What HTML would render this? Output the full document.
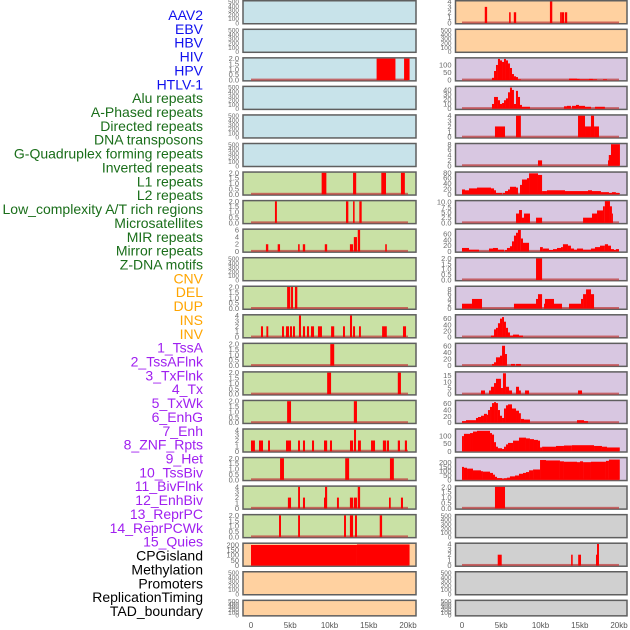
<!DOCTYPE html>
<html><head><meta charset="utf-8"><style>
html,body{margin:0;padding:0;background:#fff;}
svg{display:block;font-family:"Liberation Sans",sans-serif;}
</style></head><body>
<svg id="chart" width="630" height="630" viewBox="0 0 630 630" xmlns="http://www.w3.org/2000/svg"></svg>
<script>
// ---------- data ----------
const labelTexts = ["AAV2","EBV","HBV","HIV","HPV","HTLV-1",
"Alu repeats","A-Phased repeats","Directed repeats","DNA transposons","G-Quadruplex forming repeats","Inverted repeats","L1 repeats","L2 repeats","Low_complexity A/T rich regions","Microsatellites","MIR repeats","Mirror repeats","Z-DNA motifs",
"CNV","DEL","DUP","INS","INV",
"1_TssA","2_TssAFlnk","3_TxFlnk","4_Tx","5_TxWk","6_EnhG","7_Enh","8_ZNF_Rpts","9_Het","10_TssBiv","11_BivFlnk","12_EnhBiv","13_ReprPC","14_ReprPCWk","15_Quies",
"CPGisland","Methylation","Promoters","ReplicationTiming","TAD_boundary"];
const labelGroups = [0,0,0,0,0,0, 1,1,1,1,1,1,1,1,1,1,1,1,1, 2,2,2,2,2, 3,3,3,3,3,3,3,3,3,3,3,3,3,3,3, 4,4,4,4,4];
const groupColors = ["#1010ee","#1a6e1a","#ffa500","#a020f0","#000000"];
const xTickKb = [0,5,10,15,20];
const xTickLabels = ["0","5kb","10kb","15kb","20kb"];

const EMPTY = [];
const T500 = [0,100,200,300,400,500];
const T2 = [0,0.5,1,1.5,2];
const T4 = [0,1,2,3,4];
// left column bars [startKb, endKb, value]
const L_HPV = [[16.0,18.4,2],[19.5,20.2,2]];
const L_L1 = [[9.0,9.6,2],[13.0,13.4,2],[16.6,17.2,2],[19.1,19.6,2]];
const L_LowAT = [[3.05,3.3,2],[12.1,12.4,2],[13.0,13.2,2],[13.8,14.1,2]];
const L_MIR = [[1.9,2.2,2],[3.4,3.7,2],[6.0,6.2,2],[6.6,6.9,2],[9.4,9.7,2],[12.6,13.0,2],[13.1,13.5,4],[13.6,13.9,6],[17.1,17.3,2]];
const L_DEL = [[4.6,5.0,2],[5.1,5.35,2],[5.6,5.9,2]];
const L_INS = [[1.27,1.53,2],[1.96,2.2,2],[3.95,4.2,2],[4.46,4.84,2],[4.97,5.22,2],[5.35,5.6,2],[6.11,6.37,4],[6.62,6.88,2],[7.13,7.39,2],[7.64,8.03,2],[8.53,9.04,2],[10.2,10.6,2],[11.72,11.97,2],[12.61,12.87,4],[13.0,13.25,2],[13.76,14.0,2],[16.7,17.3,2],[19.36,19.75,2]];
const L_TssA = [[10.1,10.6,2]];
const L_TxFlnk = [[9.7,10.2,2],[18.7,19.1,2]];
const L_TxWk = [[4.6,5.1,2],[13.1,13.5,2]];
const L_Enh = [[0,0.5,2],[1.02,1.53,2],[2.17,2.42,2],[4.46,5.1,2],[5.99,6.24,2],[6.62,6.88,2],[7.77,8.03,2],[9.3,9.7,2],[10.06,10.32,2],[12.61,13.0,2],[13.12,13.38,4],[13.63,14.0,2],[15.29,15.8,2],[16.8,17.2,2],[17.3,17.58,2],[18.7,18.98,2],[19.6,19.87,2]];
const L_Het = [[3.7,4.2,2],[12.0,12.5,2],[17.7,18.2,2]];
const L_BivFlnk = [[4.7,5.1,2],[6.0,6.24,4],[6.62,6.88,2],[9.3,9.55,2],[9.43,9.7,4],[10.95,11.2,2],[12.6,13.0,2],[13.1,13.5,2],[13.6,13.9,4],[17.58,17.8,2],[19.1,19.36,2]];
const L_ReprPC = [[3.57,3.82,2],[6.0,6.24,2],[11.85,12.1,2],[12.6,13.0,2],[13.25,13.5,2],[16.4,16.7,2]];
const L_CPG = [[0,13.5,200],[13.5,20.2,205]];
// right column bars
const R_Top = [[2.9,3.2,3],[6.0,6.2,2],[6.6,6.9,2],[11.2,11.5,4],[12.5,12.7,2],[12.7,13.0,2],[13.1,13.4,2]];
const R_HIV = [[3.82,4.08,15],[4.08,4.33,60],[4.33,4.58,100],[4.58,4.84,140],[4.84,5.1,130],[5.1,5.35,120],[5.35,5.6,140],[5.6,5.86,130],[5.86,6.11,110],[6.11,6.37,80],[6.37,6.62,40],[6.62,6.88,25],[6.88,7.13,20],[7.13,7.5,5],[13.63,14.65,10],[14.65,15.0,8],[15.0,16.18,5],[16.18,16.68,8],[16.68,17.2,5],[17.96,18.47,5]];
const R_Alu = [[3.82,4.08,10],[4.08,4.58,25],[4.58,4.84,18],[4.84,5.1,10],[5.1,5.35,12],[5.35,5.6,18],[5.6,5.86,22],[5.86,6.11,35],[6.11,6.37,45],[6.37,6.62,40],[6.62,6.88,10],[6.88,7.13,38],[7.13,7.39,25],[7.39,7.64,8],[7.64,8.66,4],[12.99,13.37,5],[13.37,13.88,6],[14.0,14.52,6],[14.52,14.9,8],[14.9,15.67,6],[15.67,16.43,4],[16.94,18.2,4]];
const R_Directed = [[4.2,5.48,2],[6.88,7.5,4],[14.78,15.67,4],[15.67,16.43,2],[16.43,16.82,4],[16.82,17.45,2]];
const R_GQuad = [[9.68,10.2,2],[18.6,18.85,2],[18.7,18.98,4],[18.98,20.12,8]];
const R_Inverted = [[0,0.38,18],[0.38,0.89,15],[0.89,1.91,22],[1.91,3.69,25],[3.69,4.08,22],[4.08,4.33,15],[4.33,5.1,5],[5.22,5.48,5],[5.48,5.86,12],[5.86,6.11,18],[6.11,6.88,28],[6.88,7.13,25],[7.39,7.64,35],[7.64,8.28,55],[8.28,8.54,60],[8.54,9.68,78],[9.68,10.2,72],[10.2,10.82,12],[10.82,13.12,15],[13.12,16.05,12],[16.05,16.56,15],[16.56,17.7,12],[17.7,18.72,8],[18.72,19.1,5],[19.1,19.6,8],[19.6,20.1,5]];
const R_Micro = [[6.88,7.26,4.5],[7.26,7.64,6.2],[7.64,7.9,2.5],[7.9,8.66,4.5],[9.43,10.2,2.5],[15.42,16.56,2.5],[16.56,17.2,4.5],[17.2,17.96,6],[17.96,18.2,8],[18.2,18.85,10.5],[18.85,19.1,8],[19.1,19.2,4.5]];
const R_Mirror = [[0,0.89,12],[0.89,2.17,6],[3.44,3.95,10],[3.95,4.58,12],[4.58,5.35,6],[5.48,5.73,5],[5.73,6.11,12],[6.11,6.37,18],[6.37,6.62,35],[6.62,6.88,55],[6.88,7.13,65],[7.13,7.5,75],[7.5,7.77,45],[7.77,8.54,30],[9.94,10.3,15],[10.3,11.08,10],[11.08,11.59,5],[11.59,12.1,8],[12.1,12.61,12],[12.61,12.86,15],[12.86,13.5,25],[13.5,13.88,20],[13.88,14.27,10],[14.27,14.65,6],[14.65,15.42,10],[15.42,16.43,6],[16.43,16.94,10],[16.94,17.58,15],[17.58,18.2,20],[18.2,18.6,25],[18.6,18.98,20],[18.98,19.36,8],[19.36,19.6,5],[19.6,20.0,8]];
const R_ZDNA = [[9.43,10.2,2]];
const R_DEL = [[0,1.27,2],[1.27,2.55,4],[6.62,9.43,2],[9.43,9.68,4],[9.68,10.2,6],[10.45,10.57,2],[10.57,11.72,4],[11.72,12.74,2],[13.63,15.16,2],[15.16,15.42,4],[15.42,15.8,6],[15.8,16.43,8],[16.43,16.82,6]];
const R_INS = [[3.69,4.08,5],[4.08,4.33,25],[4.33,4.58,30],[4.58,4.84,45],[4.84,5.1,60],[5.1,5.35,65],[5.35,5.6,50],[5.6,5.86,30],[5.86,6.11,15],[6.11,6.5,5],[6.5,7.26,8],[7.26,7.77,5]];
const R_TssA = [[3.82,4.08,5],[4.08,4.33,10],[4.33,4.84,25],[4.84,5.1,30],[5.1,5.48,60],[5.48,5.73,35],[6.24,6.75,5],[6.88,7.5,5]];
const R_TxFlnk = [[2.42,2.93,3],[3.44,3.69,3],[3.69,4.08,6],[4.08,4.33,9],[4.33,4.97,12.5],[4.97,5.22,5],[5.22,5.6,17],[5.6,5.99,6],[5.99,6.37,3],[6.88,7.26,6],[7.26,7.5,3],[8.03,8.54,3],[14.78,15.29,3]];
const R_TxWk = [[0,0.51,5],[0.51,1.78,8],[1.78,2.04,15],[2.04,2.42,18],[2.42,2.8,22],[2.8,3.18,28],[3.18,3.31,25],[3.31,3.57,40],[3.57,3.82,50],[3.82,4.08,62],[4.08,4.33,65],[4.33,4.58,62],[4.58,4.84,40],[4.84,5.1,22],[5.1,5.35,15],[5.35,5.6,45],[5.6,5.86,55],[5.86,6.37,58],[6.37,6.88,45],[6.88,7.26,38],[7.26,7.5,30],[7.5,7.9,12],[7.9,8.66,10],[14.65,15.54,8],[15.54,16.05,5]];
const R_Enh = [[0,0.25,100],[0.25,1.02,115],[1.02,1.4,120],[1.4,1.91,130],[1.91,3.57,135],[3.57,3.82,120],[3.82,4.08,110],[4.08,4.33,60],[4.33,4.58,30],[4.58,5.1,20],[5.1,5.35,15],[5.35,5.6,30],[5.6,5.86,45],[5.86,6.5,55],[6.5,7.26,70],[7.26,8.15,90],[8.15,8.66,85],[8.66,9.17,80],[9.17,9.68,75],[9.68,9.94,70],[9.94,10.2,25],[10.2,11.97,30],[11.97,12.99,35],[12.99,14.0,38],[14.0,16.82,40],[16.82,17.83,35],[17.83,18.47,30],[18.47,20.1,25]];
const R_Het = [[0,0.25,150],[0.25,0.64,140],[0.64,1.4,130],[1.4,2.42,110],[2.42,2.67,100],[2.67,3.57,95],[3.57,3.95,80],[3.95,4.2,60],[4.2,4.46,35],[4.46,5.1,20],[5.1,5.35,12],[5.35,5.73,18],[5.73,6.11,25],[6.11,6.75,40],[6.75,7.26,50],[7.26,7.77,70],[7.77,8.15,80],[8.15,8.54,90],[8.54,9.05,110],[9.05,9.94,120],[9.94,10.7,230],[10.7,12.48,225],[12.48,12.99,215],[12.99,14.65,210],[14.65,15.03,205],[15.03,15.42,215],[15.42,16.43,205],[16.43,18.34,210],[18.34,18.72,220],[18.72,20.1,235]];
const R_BivFlnk = [[4.2,5.48,2]];
const R_CPG = [[4.55,5.06,2],[13.9,14.1,2],[14.8,15.16,2],[17.07,17.3,2],[17.2,17.45,4]];

// panel configs: [bars, ymax, ticks, tickLabels?]
const leftBg = ["#c8e3ea","#c8e3ea","#c8e3ea","#c8e3ea","#c8e3ea","#c8e3ea","#c9e1a5","#c9e1a5","#c9e1a5","#c9e1a5","#c9e1a5","#c9e1a5","#c9e1a5","#c9e1a5","#c9e1a5","#c9e1a5","#c9e1a5","#c9e1a5","#c9e1a5","#ffd1a0","#ffd1a0","#ffd1a0"];
const rightBg = ["#ffd1a0","#ffd1a0","#d8c7e1","#d8c7e1","#d8c7e1","#d8c7e1","#d8c7e1","#d8c7e1","#d8c7e1","#d8c7e1","#d8c7e1","#d8c7e1","#d8c7e1","#d8c7e1","#d8c7e1","#d8c7e1","#d8c7e1","#d0d0d0","#d0d0d0","#d0d0d0","#d0d0d0","#d0d0d0"];
const leftPanels = [
 [EMPTY,500,T500],[EMPTY,500,T500],[L_HPV,2,T2],[EMPTY,500,T500],[EMPTY,500,T500],[EMPTY,500,T500],
 [L_L1,2,T2],[L_LowAT,2,T2],[L_MIR,6,[0,2,4,6]],[EMPTY,500,T500],[L_DEL,2,T2],[L_INS,4,T4],
 [L_TssA,2,T2],[L_TxFlnk,2,T2],[L_TxWk,2,T2],[L_Enh,4,T4],[L_Het,2,T2],[L_BivFlnk,4,T4],[L_ReprPC,2,T2],
 [L_CPG,210,[0,50,100,150,200]],[EMPTY,500,T500],[EMPTY,500,T500]];
const rightPanels = [
 [R_Top,4,T4],[EMPTY,500,T500],[R_HIV,142,[0,50,100]],[R_Alu,46,[0,10,20,30,40]],[R_Directed,4,T4],[R_GQuad,8,[0,2,4,6,8]],
 [R_Inverted,80,[0,20,40,60,80]],[R_Micro,10.4,[0,2.5,5,7.5,10]],[R_Mirror,75,[0,20,40,60]],[R_ZDNA,2,T2],[R_DEL,9,[0,2,4,6,8]],[R_INS,70,[0,20,40,60]],
 [R_TssA,65,[0,20,40,60]],[R_TxFlnk,17.5,[0,5,10,15]],[R_TxWk,68,[0,20,40,60]],[R_Enh,142,[0,50,100]],[R_Het,250,[0,50,100,150,200]],[R_BivFlnk,2,T2],[EMPTY,500,T500],
 [R_CPG,4,T4],[EMPTY,500,T500],[EMPTY,500,T500]];

// ---------- drawing ----------
const NS="http://www.w3.org/2000/svg";
const svg=document.getElementById('chart');
function mk(tag,attrs,parent){const e=document.createElementNS(NS,tag);for(const k in attrs)e.setAttribute(k,attrs[k]);(parent||svg).appendChild(e);return e;}
const KB=7.85;
function xLeft(kb){return 251+kb*KB;}
function xRight(kb){return 462+kb*KB;}
function fmt(v,ticks){const dec=ticks.some(t=>t%1!==0);if(dec){return (Math.abs(v-Math.round(v*10)/10)<1e-9 && !ticks.some(t=>Math.round(t*10)!==t*10))?v.toFixed(1):v.toFixed(1);}return String(v);}

// labels
const labelG=mk('g',{});


labelTexts.forEach((t,i)=>{
  const tx=mk('text',{x:203,y:15+i*13.86+5,'text-anchor':'end','font-size':'14',fill:groupColors[labelGroups[i]]},labelG);
  tx.textContent=t;
  
  
});

function panelTop(i){return i<21? i*28.55 : 599.6;}
function panelH(i){return i<21? 24.5 : 17;}

function drawColumn(panels,bgs,x0,x1,xf,side){
  panels.forEach((p,i)=>{
    const [bars,ymax,ticks]=p;
    const top=panelTop(i),h=panelH(i),bot=top+h;
    const g=mk('g',{});
    
    
    const r=mk('rect',{x:x0,y:top+0.75,width:x1-x0,height:h-1.5,fill:bgs[i],stroke:'#5f5f5f','stroke-width':1.5},g);
    
    
    const yf=v=>bot-1.5-v/ymax*(h-3);
    ticks.forEach(t=>{
      const tt=mk('text',{x:x0-4,y:yf(t)+2.5,'text-anchor':'end','font-size':ymax===500?'6.5':'7.5',fill:'#6a6a6a'},g);
      tt.textContent=(ticks===T2||ticks.some(v=>v%1!==0))?t.toFixed(1):String(t);
      
      
    });
    if(bars.length){
      const bl=mk('rect',{x:xf(0),y:yf(0)-1.5,width:xf(20)-xf(0),height:2,fill:'#c04040','fill-opacity':0.75},g);
      
      
      bars.forEach(b=>{
        const y=yf(b[2]);
        const br=mk('rect',{x:xf(b[0]),y:y,width:Math.max(1,xf(b[1])-xf(b[0])),height:yf(0)-y,fill:'#ff0000'},g);
        
        
      });
    }
  });
  const ax=mk('g',{});
  
  
  xTickKb.forEach((k,j)=>{
    const t=mk('text',{x:xf(k),y:628,'text-anchor':'middle','font-size':'8',fill:'#555'},ax);
    t.textContent=xTickLabels[j];
    
    
  });
}
drawColumn(leftPanels,leftBg,243,416,xLeft,'left');
drawColumn(rightPanels,rightBg,455.5,627,xRight,'right');
</script>
</body></html>
